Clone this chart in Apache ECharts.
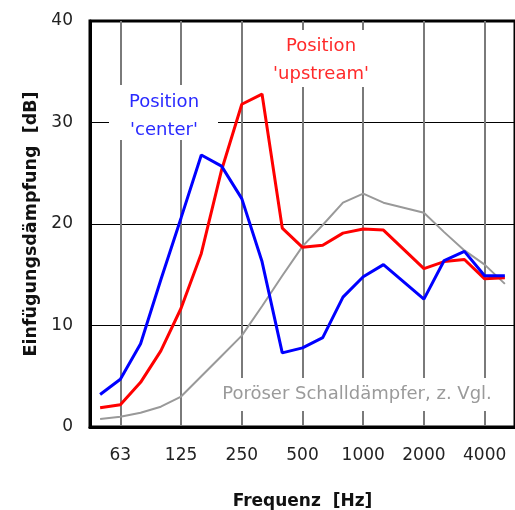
<!DOCTYPE html>
<html>
<head>
<meta charset="utf-8">
<script src="https://cdn.jsdelivr.net/npm/echarts@6/dist/echarts.min.js"></script>
<style>
  html,body{margin:0;padding:0;background:#fff;}
  #chart{width:515px;height:510px;}
</style>
</head>
<body>
<div id="chart"></div>
<script>
// Terzbänder (Hz)
const bands = ['50','63','80','100','125','160','200','250','315','400','500','630','800','1000','1250','1600','2000','2500','3150','4000','5000']
const shownLabels = ['63','125','250','500','1000','2000','4000']

// Einfügungsdämpfung in dB
const center   = [3.2, 4.7, 8.2, 14.5, 20.6, 26.8, 25.7, 22.5, 16.3, 7.3, 7.8, 8.8, 12.8, 14.8, 16.0, 14.3, 12.6, 16.4, 17.3, 14.9, 14.9]
const upstream = [1.9, 2.2, 4.4, 7.5, 11.7, 17.1, 25.3, 31.8, 32.8, 19.6, 17.7, 17.9, 19.1, 19.5, 19.4, 17.5, 15.6, 16.3, 16.5, 14.6, 14.7]
const porous   = [0.8, 1.0, 1.4, 2.0, 3.0, 5.0, 7.0, 9.0, 11.9, 14.9, 17.8, 19.9, 22.1, 23.0, 22.1, 21.6, 21.1, 19.2, 17.4, 16.0, 14.1]

const yTicks = [0, 10, 20, 30, 40]

const font = 'DejaVu Sans'
const isShown = (i) => shownLabels.includes(bands[i])

const chart = echarts.init(document.getElementById('chart'))
chart.setOption({
  animation:false,
  grid:{
    left:90, top:21, width:425, height:406,
    outerBoundsMode:'none',
    show:true, borderColor:'#000', borderWidth:3, backgroundColor:'transparent'
  },
  xAxis:{
    type:'category',
    data:bands,
    boundaryGap:true,
    name:'Frequenz  [Hz]',
    nameLocation:'middle',
    nameGap:66,
    nameTextStyle:{fontFamily:font, fontWeight:'bold', fontSize:17, color:'#111'},
    axisLine:{show:true, lineStyle:{color:'#000', width:3}},
    axisTick:{show:false},
    axisLabel:{
      interval:(i)=>isShown(i),
      margin:20,
      fontFamily:font, fontSize:17, color:'#222'
    },
    splitLine:{
      show:true,
      interval:(i)=>isShown(i),
      alignWithLabel:true,
      lineStyle:{color:'#7a7a7a', width:2}
    }
  },
  yAxis:{
    type:'value',
    min:yTicks[0], max:yTicks[yTicks.length-1], interval:10,
    name:'Einfügungsdämpfung  [dB]',
    nameLocation:'middle',
    nameGap:43,
    nameTextStyle:{fontFamily:font, fontWeight:'bold', fontSize:17.5, color:'#111'},
    axisLine:{show:true, lineStyle:{color:'#000', width:3}},
    axisTick:{show:false},
    axisLabel:{margin:17, fontFamily:font, fontSize:17, color:'#222'},
    splitLine:{show:true, lineStyle:{color:'#000', width:1}}
  },
  series:[
    {name:'porous', type:'line', data:porous, symbol:'none', z:3,
      lineStyle:{color:'#999', width:2}},
    {name:'upstream', type:'line', data:upstream, symbol:'none', z:4,
      lineStyle:{color:'#ff0000', width:3}},
    {name:'center', type:'line', data:center, symbol:'none', z:5,
      lineStyle:{color:'#0000ff', width:3}}
  ],
  graphic:[
    // weisse Flaechen hinter den Beschriftungen (unterbrechen das Gitter)
    {type:'rect', z:1, shape:{x:109, y:85, width:109, height:55}, style:{fill:'#fff'}},
    {type:'rect', z:1, shape:{x:268, y:30, width:108, height:57}, style:{fill:'#fff'}},
    {type:'rect', z:1, shape:{x:214, y:378, width:288, height:33}, style:{fill:'#fff'}},
    {type:'text', z:2, x:164, y:116, style:{
      text:"Position\n'center'", fill:'#2a2aff', font:'18px "DejaVu Sans"',
      align:'center', verticalAlign:'middle', lineHeight:28}},
    {type:'text', z:2, x:321, y:60, style:{
      text:"Position\n'upstream'", fill:'#ff2a2a', font:'18px "DejaVu Sans"',
      align:'center', verticalAlign:'middle', lineHeight:28}},
    {type:'text', z:2, x:357, y:394, style:{
      text:'Poröser Schalldämpfer, z. Vgl.', fill:'#9a9a9a', font:'18px "DejaVu Sans"',
      align:'center', verticalAlign:'middle'}}
  ]
})
</script>
</body>
</html>
